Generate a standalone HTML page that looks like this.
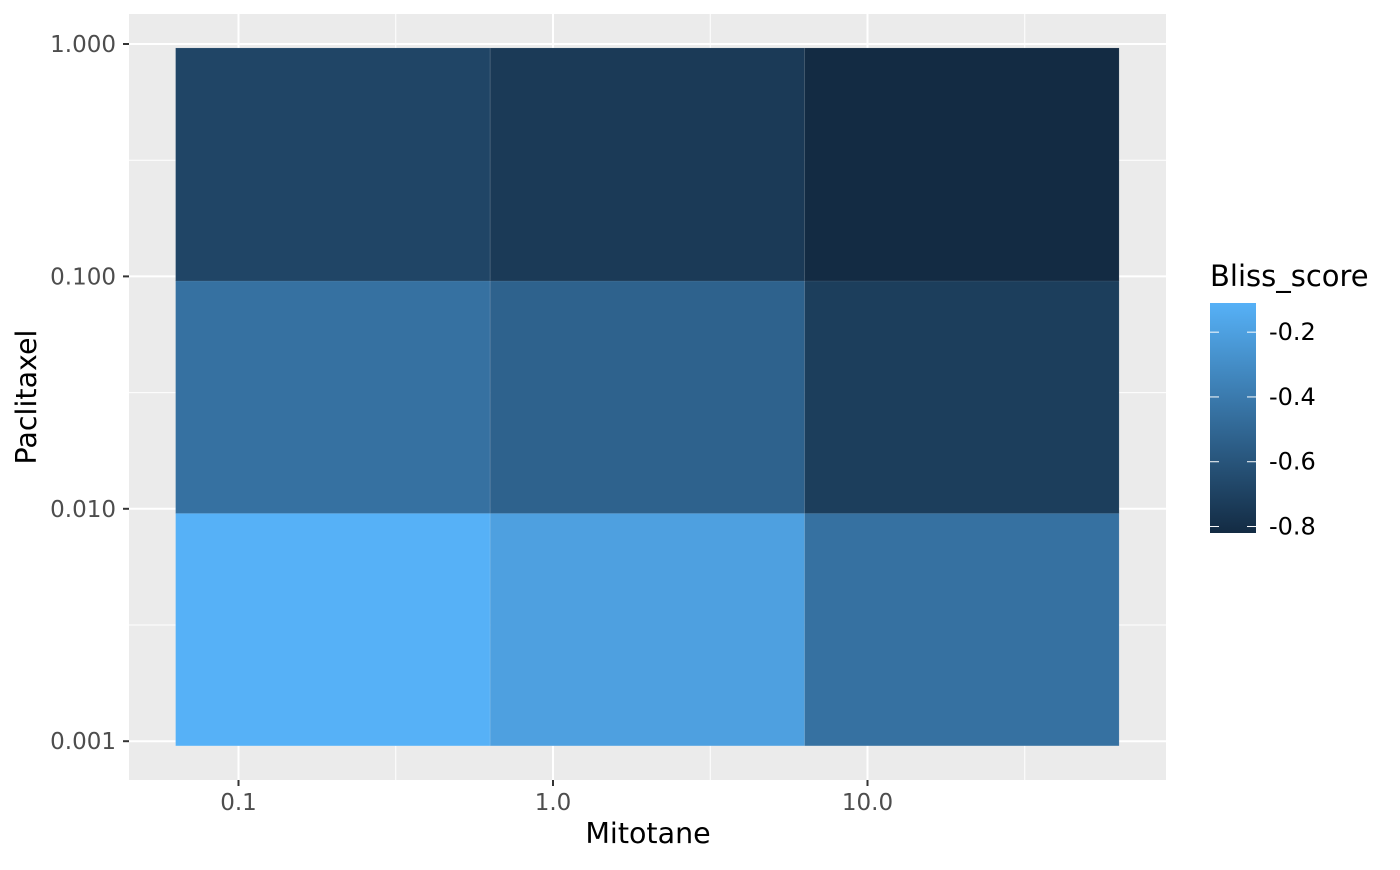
<!DOCTYPE html>
<html><head><meta charset="utf-8"><style>
body{margin:0;background:#fff;}
svg text{font-family:"DejaVu Sans","Liberation Sans",sans-serif;}
</style></head><body>
<svg id="chart" width="1400" height="865" viewBox="0 0 1400 865">
<rect x="0" y="0" width="1400" height="865" fill="#fff"/>
<rect x="129" y="14" width="1037" height="766" fill="#EBEBEB"/>
<g id="grid"></g>
<g id="tiles"></g>
<g id="axes"></g>
<text x="648" y="843" font-size="28.5" text-anchor="middle" fill="#000">Mitotane</text>
<text transform="translate(36,397) rotate(-90)" font-size="28.5" text-anchor="middle" fill="#000">Paclitaxel</text>
<g id="legend"></g>
</svg>
<script>
const xCats = [0.1, 1, 10];
const yCats = [0.001, 0.01, 0.1];
// scores[row by yCats][col by xCats]
const scores = [
  [-0.11, -0.20, -0.45],
  [-0.45, -0.53, -0.72],
  [-0.68, -0.74, -0.82]
];
const xTickVals = [0.1, 1, 10];
const xTickLabels = ["0.1", "1.0", "10.0"];
const yTickVals = [0.001, 0.01, 0.1, 1];
const yTickLabels = ["0.001", "0.010", "0.100", "1.000"];
const legendTicks = [-0.2, -0.4, -0.6, -0.8];
const legendLabels = ["-0.2", "-0.4", "-0.6", "-0.8"];

const NS = "http://www.w3.org/2000/svg";
function mk(tag, attrs, parent){const e=document.createElementNS(NS,tag);for(const k in attrs)e.setAttribute(k,attrs[k]);parent.appendChild(e);return e;}
const xs = v => 553 + 314.5*Math.log10(v);
const ys = v => 44 - 232.4*(Math.log10(v));
const allS = scores.flat();
const sMin = Math.min(...allS), sMax = Math.max(...allS);
const lo=[0x13,0x2B,0x43], hi=[0x56,0xB1,0xF7];
function col(s){const t=(s-sMin)/(sMax-sMin);return "rgb("+lo.map((c,i)=>Math.round(c+(hi[i]-c)*t)).join(",")+")";}

const grid=document.getElementById('grid');
for(let i=0;i<xTickVals.length;i++){
  const mv = xTickVals[i]*Math.sqrt(10);
  const m=mk('line',{x1:xs(mv),x2:xs(mv),y1:14,y2:780,stroke:'#fff','stroke-width':1},grid);
  
  
  const g=mk('line',{x1:xs(xTickVals[i]),x2:xs(xTickVals[i]),y1:14,y2:780,stroke:'#fff','stroke-width':2},grid);
  
  
}
for(let i=0;i<yTickVals.length;i++){
  if(i<yTickVals.length-1){
    const mv=yTickVals[i]*Math.sqrt(10);
    const m=mk('line',{x1:129,x2:1166,y1:ys(mv),y2:ys(mv),stroke:'#fff','stroke-width':1},grid);
    
    
  }
  const g=mk('line',{x1:129,x2:1166,y1:ys(yTickVals[i]),y2:ys(yTickVals[i]),stroke:'#fff','stroke-width':2},grid);
  
  
}
const tiles=document.getElementById('tiles');
for(let r=0;r<yCats.length;r++)for(let c=0;c<xCats.length;c++){
  const x0=xs(xCats[c]*Math.pow(10,-0.2)), x1=xs(xCats[c]*Math.pow(10,0.8));
  const yb=ys(yCats[r]*Math.pow(10,-0.02)), yt=ys(yCats[r]*Math.pow(10,0.983));
  const t=mk('rect',{x:x0,y:yt,width:x1-x0,height:yb-yt,fill:col(scores[r][c]),stroke:'rgba(255,255,255,0.15)','stroke-width':0.6},tiles);
  
  
}
const axes=document.getElementById('axes');
for(let i=0;i<xTickVals.length;i++){
  const x=xs(xTickVals[i]);
  const tk=mk('line',{x1:x,x2:x,y1:780,y2:786,stroke:'#333','stroke-width':2},axes);
  
  
  const tx=mk('text',{x:x,y:810,'font-size':23,'text-anchor':'middle',fill:'#4D4D4D'},axes);
  tx.textContent=xTickLabels[i];
  
  
}
for(let i=0;i<yTickVals.length;i++){
  const y=ys(yTickVals[i]);
  const tk=mk('line',{x1:123,x2:129,y1:y,y2:y,stroke:'#333','stroke-width':2},axes);
  
  
  const tx=mk('text',{x:116,y:y+8,'font-size':23,'text-anchor':'end',fill:'#4D4D4D'},axes);
  tx.textContent=yTickLabels[i];
  
  
}
// legend
const lg=document.getElementById('legend');
const lt=mk('text',{x:1210,y:286,'font-size':29,fill:'#000'},lg);
lt.textContent='Bliss_score';


const defs=mk('defs',{},lg);
const grad=mk('linearGradient',{id:'lgrad',x1:0,y1:0,x2:0,y2:1},defs);
mk('stop',{offset:0,'stop-color':col(sMax)},grad);
mk('stop',{offset:1,'stop-color':col(sMin)},grad);
const ly=s=>303+(sMax-s)/(sMax-sMin)*230;
const bar=mk('rect',{x:1210,y:303,width:46,height:230,fill:'url(#lgrad)'},lg);


for(let i=0;i<legendTicks.length;i++){
  const y=ly(legendTicks[i]);
  const a=mk('line',{x1:1210,x2:1219,y1:y,y2:y,stroke:'#fff','stroke-width':1},lg);
  
  
  const b=mk('line',{x1:1247,x2:1256,y1:y,y2:y,stroke:'#fff','stroke-width':1},lg);
  
  
  const t=mk('text',{x:1269,y:y+8,'font-size':24,fill:'#000'},lg);
  t.textContent=legendLabels[i];
  
  
}
</script>
</body></html>
